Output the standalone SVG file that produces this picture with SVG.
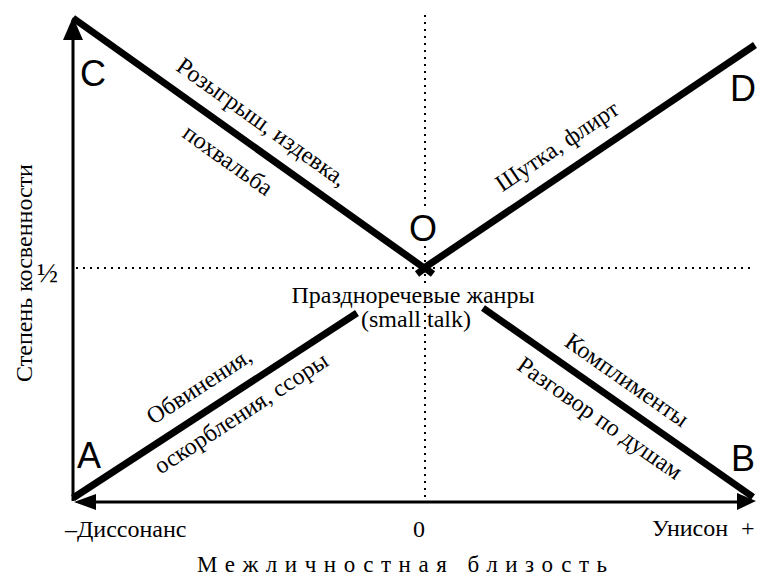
<svg xmlns="http://www.w3.org/2000/svg" width="760" height="576" viewBox="0 0 760 576">
<style>
.serif{font-family:"Liberation Serif","Times New Roman",serif;fill:#000}
.lbl{font-family:"Liberation Sans",Arial,sans-serif;font-size:36px;fill:#000}
.thick{stroke:#000;stroke-width:7;stroke-linecap:butt;fill:none}
.axis{stroke:#000;stroke-width:3;fill:none}
.dot{stroke:#000;stroke-width:2;stroke-dasharray:2 5;fill:none}
</style>
<rect width="760" height="576" fill="#fff"/>
<g id="grid">
<line class="dot" x1="76" y1="268" x2="755" y2="268"/>
<line class="dot" x1="425" y1="15" x2="425" y2="208"/>
<line class="dot" x1="425" y1="246" x2="425" y2="283"/>
<line class="dot" x1="425" y1="306" x2="425" y2="497"/>
</g>
<g id="axes">
<line class="axis" x1="73" y1="501" x2="73" y2="36"/>
<polygon points="73,17 63,40 83,40" fill="#000"/>
<line class="axis" x1="92" y1="502" x2="740" y2="502"/>
<polygon points="74,502 96,494 96,510" fill="#000"/>
<polygon points="756,501 737,493 737,510" fill="#000"/>
</g>
<g id="connectors">
<line class="thick" x1="73" y1="18" x2="427" y2="270"/>
<line class="thick" x1="421" y1="270" x2="755" y2="45"/>
<line class="thick" x1="73" y1="498" x2="357" y2="313"/>
<line class="thick" x1="483" y1="308" x2="753" y2="497"/>
<line class="thick" x1="425" y1="268" x2="417" y2="274"/>
<line class="thick" x1="425" y1="268" x2="433" y2="274"/>
</g>
<g id="node-C"><text class="lbl" x="80" y="86">C</text></g>
<g id="node-D"><text class="lbl" x="730" y="101">D</text></g>
<g id="node-A"><text class="lbl" x="77" y="468">A</text></g>
<g id="node-B"><text class="lbl" x="731" y="471">B</text></g>
<g id="node-O"><text class="lbl" x="409" y="241">O</text></g>
<g id="axis-labels">
<text class="serif" font-size="24" transform="translate(32,273) rotate(-90)" text-anchor="middle">Степень косвенности</text>
<text class="serif" font-size="28" x="37" y="282">½</text>
<text class="serif" font-size="24" x="65" y="537">–Диссонанс</text>
<text class="serif" font-size="24" x="413" y="537">0</text>
<text class="serif" font-size="24" x="652" y="536">Унисон</text>
<text class="serif" font-size="24" x="741" y="536">+</text>
<text class="serif" font-size="23" x="197" y="572" textLength="410" lengthAdjust="spacing">Межличностная близость</text>
</g>
<g id="center-label">
<text class="serif" font-size="24" x="413" y="303" text-anchor="middle">Празднoречевые жанры</text>
<text class="serif" font-size="24" x="416" y="327" text-anchor="middle">(small talk)</text>
</g>
<g id="edge-labels">
<text class="serif" font-size="24" transform="translate(262,122) rotate(35.5)" text-anchor="middle" y="8">Розыгрыш, издевка,</text>
<text class="serif" font-size="24" transform="translate(228,160) rotate(35.5)" text-anchor="middle" y="8">похвальба</text>
<text class="serif" font-size="24" transform="translate(557,146) rotate(-34)" text-anchor="middle" y="8">Шутка, флирт</text>
<text class="serif" font-size="24" transform="translate(199,386) rotate(-33)" text-anchor="middle" y="8">Обвинения,</text>
<text class="serif" font-size="24" transform="translate(241,413) rotate(-33)" text-anchor="middle" y="8">оскорбления, ссоры</text>
<text class="serif" font-size="24" transform="translate(627,380) rotate(35)" text-anchor="middle" y="8">Комплименты</text>
<text class="serif" font-size="24" transform="translate(600,418) rotate(35)" text-anchor="middle" y="8">Разговор по душам</text>
</g>
</svg>
